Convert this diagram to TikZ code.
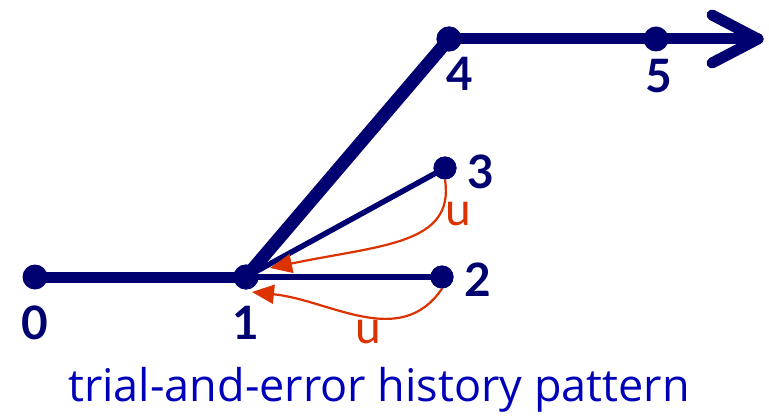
\documentclass[tikz,border=0pt]{standalone}
\usepackage{fontspec}
\setmainfont{Lato}
\newfontfamily\capfont{Open Sans}
\usetikzlibrary{arrows.meta}
\definecolor{navy}{RGB}{0,0,112}
\definecolor{redor}{RGB}{220,50,0}
\definecolor{capblue}{RGB}{0,0,185}
\tikzset{
  dot/.style={circle,fill=navy,inner sep=0pt,minimum size=25pt},
  sdot/.style={circle,fill=navy,inner sep=0pt,minimum size=23pt},
  lbl/.style={text=navy,font=\fontsize{46}{46}\selectfont\bfseries,inner sep=0pt},
  ulbl/.style={text=redor,font=\fontsize{46}{46}\selectfont,inner sep=0pt},
  thick main/.style={draw=navy,line width=11pt,line cap=round,line join=round},
  thin br/.style={draw=navy,line width=5.5pt},
  back/.style={draw=redor,line width=2.2pt,-{Triangle[length=22pt,width=19pt]}},
}
\begin{document}
\begin{tikzpicture}[x=1pt,y=-1pt]
\useasboundingbox (0,0) rectangle (769,417);
\node[dot] (n0) at (35,277) {};
\node[dot] (n1) at (246,277) {};
\node[sdot] (n2) at (442,277) {};
\node[sdot] (n3) at (445,168) {};
\node[dot] (n4) at (449,39) {};
\node[dot] (n5) at (656,39) {};
\coordinate (e) at (758,39);
\coordinate (a1) at (712,15);
\coordinate (a2) at (712,63);
\draw[thick main] (n0.center) -- (n1.center);
\draw[thick main,line width=13pt] (n1.center) -- (n4.center);
\draw[thick main] (n4.center) -- (n5.center) -- (e);
\draw[thick main] (a1) -- (e) -- (a2);
\draw[thin br] (n1.center) -- (n3.center);
\draw[thin br] (n1.center) -- (n2.center);
\node[dot] at (n1) {};
\node[dot] at (n4) {};
\node[sdot] at (n3) {};
\node[sdot] at (n2) {};
\draw[back] (n3.south) .. controls (455,245) and (380,245) .. (270,268);
\draw[back] (n2.south) .. controls (400,350) and (330,300) .. (252,292);
\node[lbl] (l0) at (35,323) {0};
\node[lbl] (l1) at (246,323) {1};
\node[lbl] (l2) at (478,280) {2};
\node[lbl] (l3) at (481,172) {3};
\node[lbl] (l4) at (460,74) {4};
\node[lbl] (l5) at (659,76) {5};
\node[ulbl] (u1) at (458,214) {u};
\node[ulbl] (u2) at (368,332) {u};
\node[text=capblue,font=\capfont\fontsize{45}{45}\selectfont,inner sep=0pt] (cap) at (379,390) {trial-and-error history pattern};
\end{tikzpicture}
\end{document}
